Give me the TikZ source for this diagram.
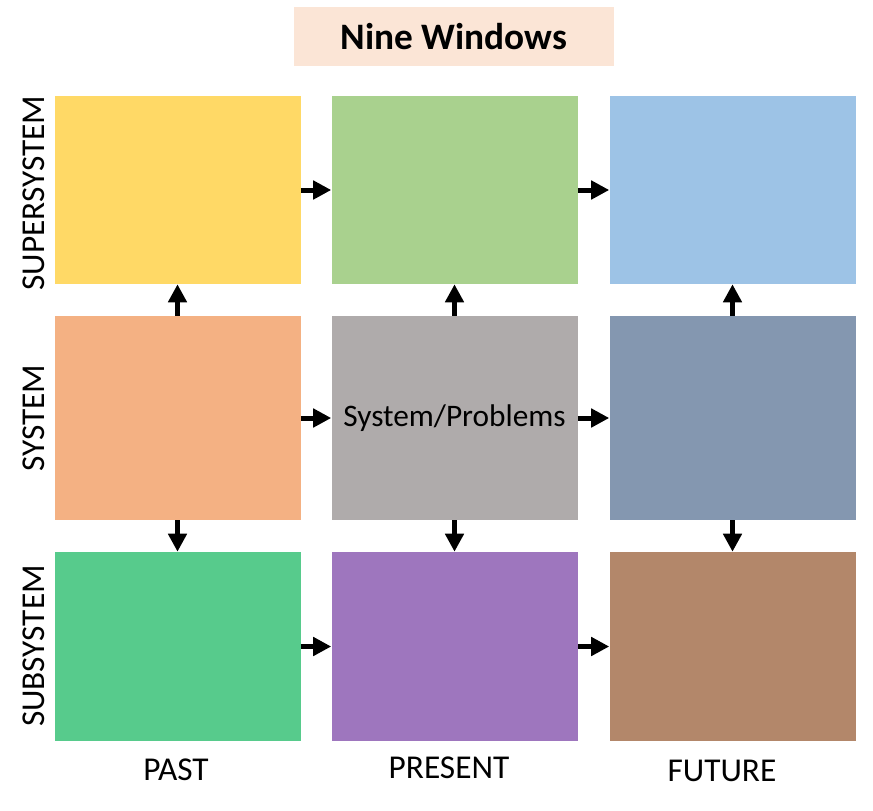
\documentclass[tikz,border=0pt]{standalone}
\usepackage{fontspec}
\setmainfont{Carlito}
\usetikzlibrary{arrows.meta}
\definecolor{cTitle}{HTML}{FBE5D6}
\definecolor{cYellow}{HTML}{FFD966}
\definecolor{cGreen}{HTML}{A9D18E}
\definecolor{cBlue}{HTML}{9DC3E6}
\definecolor{cOrange}{HTML}{F4B183}
\definecolor{cGray}{HTML}{AFABAB}
\definecolor{cSlate}{HTML}{8497B0}
\definecolor{cGreenB}{HTML}{57CB8C}
\definecolor{cPurple}{HTML}{9E76BE}
\definecolor{cBrown}{HTML}{B3876A}
\tikzset{
  win/.style={rectangle, draw=none, inner sep=0pt, minimum width=246*0.75pt},
  rowA/.style={minimum height=188*0.75pt},
  rowB/.style={minimum height=204*0.75pt},
  rowC/.style={minimum height=189*0.75pt},
  flow/.style={line width=3.75pt, -{Triangle[length=13.5pt, width=13.5pt]}},
  lbl/.style={inner sep=0pt, font=\fontsize{25}{28}\selectfont},
  sidelbl/.style={inner sep=0pt, rotate=90, font=\fontsize{25}{28}\selectfont},
}
\begin{document}
\begin{tikzpicture}[x=0.75pt, y=-0.75pt]
\useasboundingbox (0,0) rectangle (873,810);
% title
\node[rectangle, fill=cTitle, minimum width=320*0.75pt, minimum height=59*0.75pt, inner sep=0pt,
      font=\bfseries\fontsize{28}{32}\selectfont] (title) at (454,36.5) {Nine Windows};
% windows
\node[win, rowA, fill=cYellow] (pA) at (177.5,190) {};
\node[win, rowA, fill=cGreen]  (nA) at (454.5,190) {};
\node[win, rowA, fill=cBlue]   (fA) at (732.5,190) {};
\node[win, rowB, fill=cOrange] (pB) at (177.5,418) {};
\node[win, rowB, fill=cGray, font=\fontsize{23.5}{26}\selectfont] (nB) at (454.5,418) {System/Problems};
\node[win, rowB, fill=cSlate]  (fB) at (732.5,418) {};
\node[win, rowC, fill=cGreenB] (pC) at (177.5,646.5) {};
\node[win, rowC, fill=cPurple] (nC) at (454.5,646.5) {};
\node[win, rowC, fill=cBrown]  (fC) at (732.5,646.5) {};
% horizontal arrows
\draw[flow] (pA.east) -- (nA.west);
\draw[flow] (nA.east) -- (fA.west);
\draw[flow] (pB.east) -- (nB.west);
\draw[flow] (nB.east) -- (fB.west);
\draw[flow] (pC.east) -- (nC.west);
\draw[flow] (nC.east) -- (fC.west);
% vertical arrows
\draw[flow] (pB.north) -- (pA.south);
\draw[flow] (nB.north) -- (nA.south);
\draw[flow] (fB.north) -- (fA.south);
\draw[flow] (pB.south) -- (pC.north);
\draw[flow] (nB.south) -- (nC.north);
\draw[flow] (fB.south) -- (fC.north);
% side labels
\node[sidelbl] (lSup) at (34,193) {SUPERSYSTEM};
\node[sidelbl] (lSys) at (34,418) {SYSTEM};
\node[sidelbl] (lSub) at (34,646) {SUBSYSTEM};
% bottom labels
\node[lbl] (lPast) at (176,770) {PAST};
\node[lbl] (lPres) at (449,768) {PRESENT};
\node[lbl] (lFut)  at (722,771) {FUTURE};
\end{tikzpicture}
\end{document}
